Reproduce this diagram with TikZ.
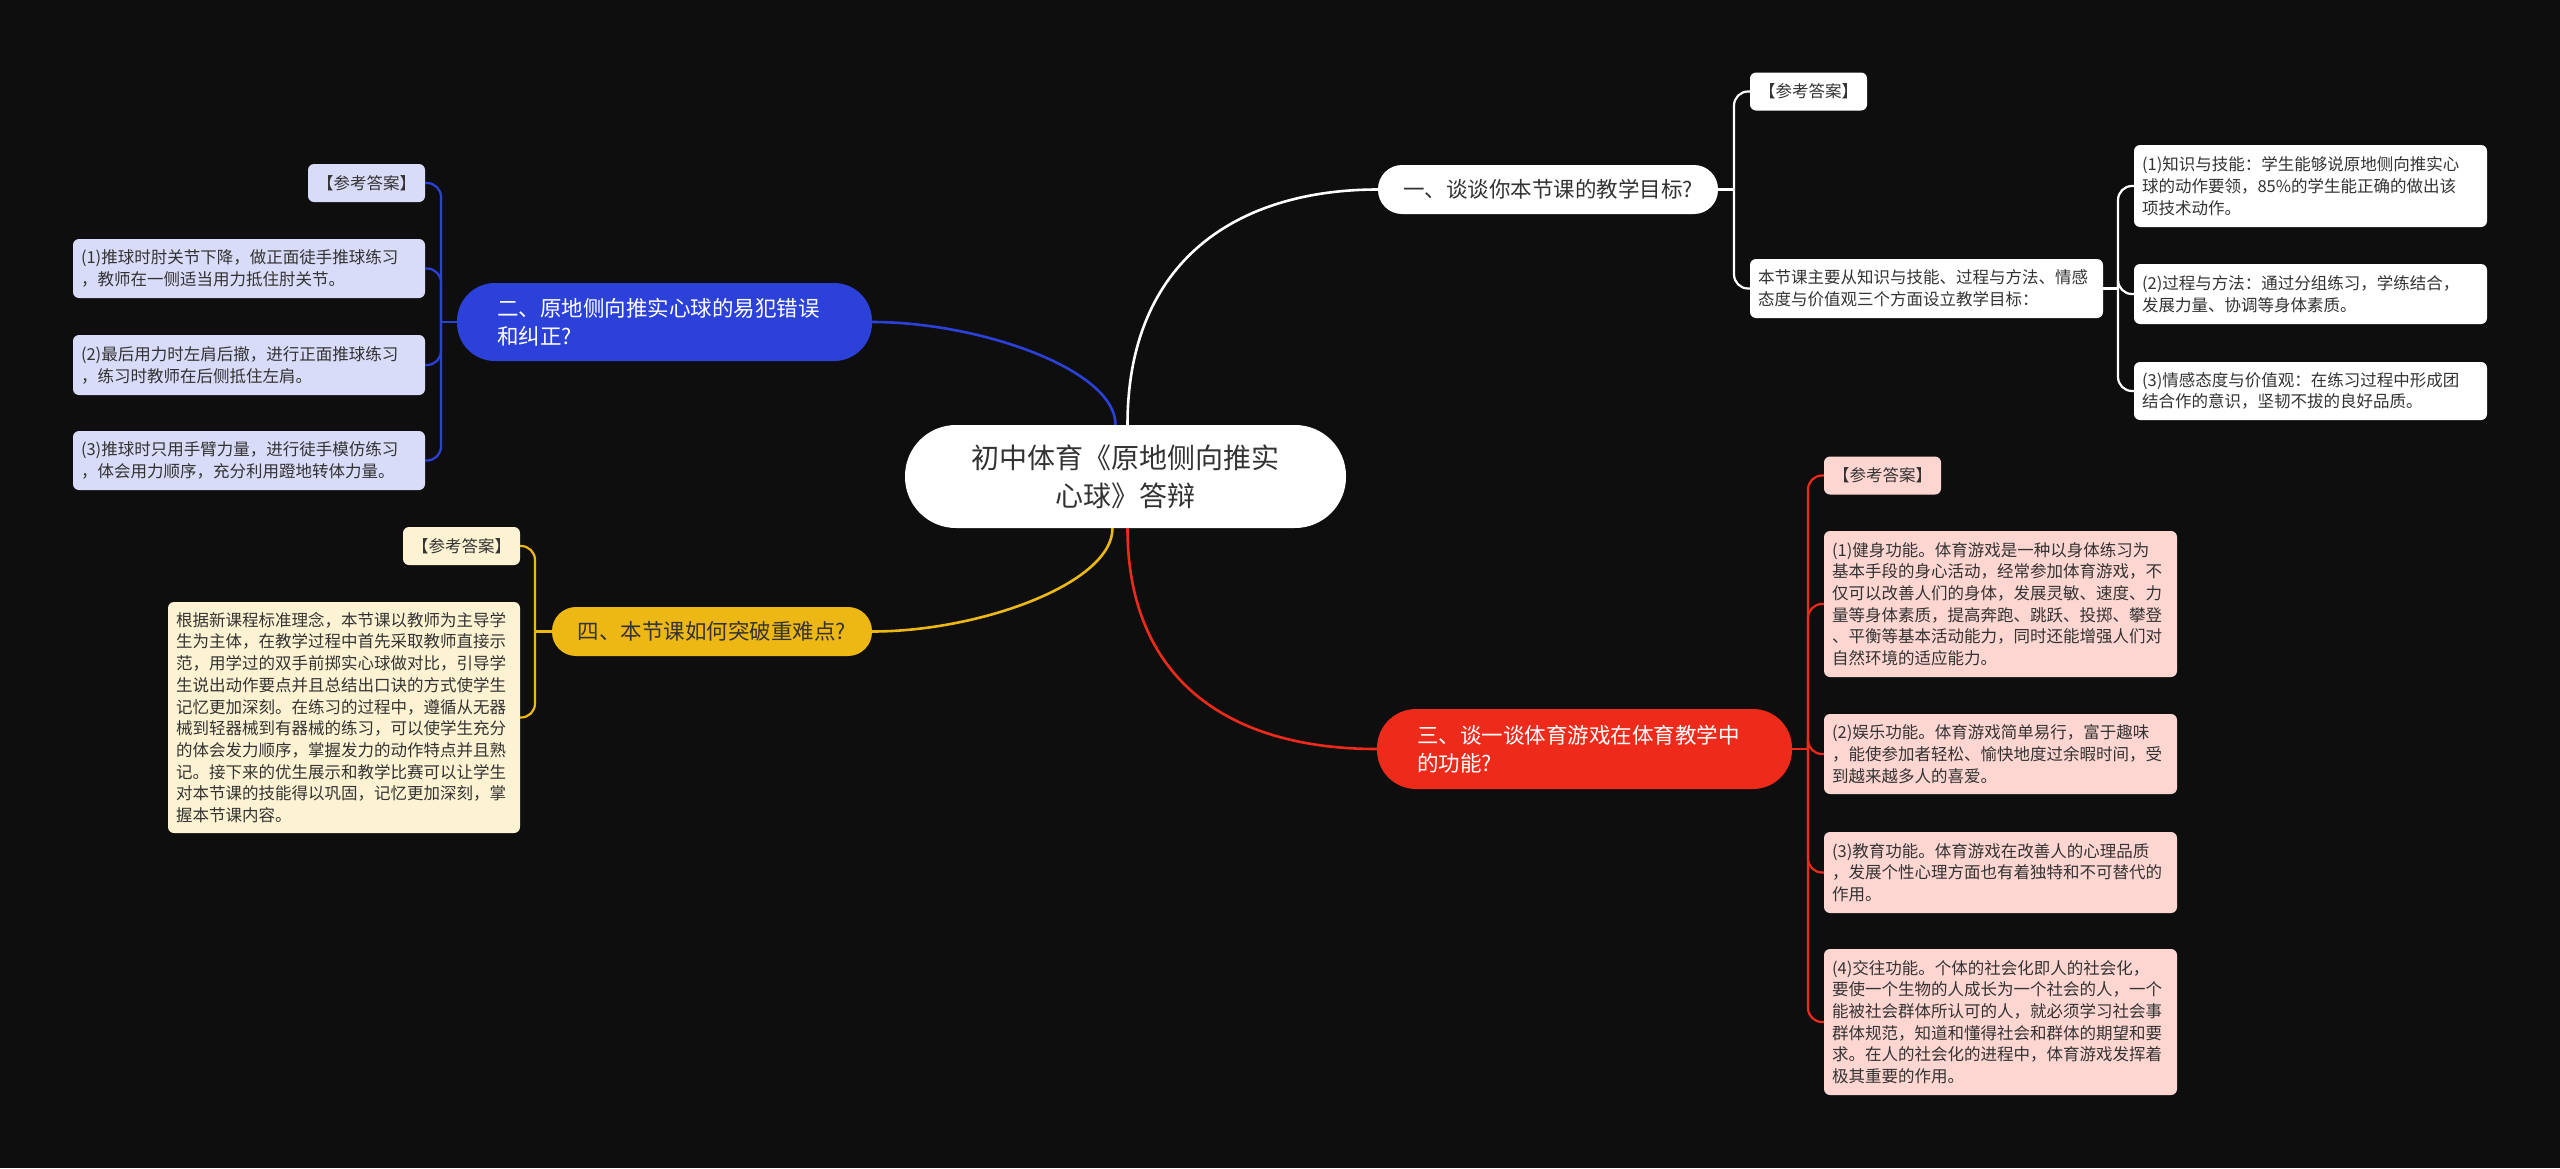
\documentclass[tikz,border=0pt]{standalone}
\usepackage{fontspec}
\setmainfont{Noto Sans CJK SC}
\definecolor{bg}{HTML}{0E0E0E}
\definecolor{ink}{HTML}{333333}
\definecolor{bluetopic}{HTML}{2B41D9}
\definecolor{blueleaf}{HTML}{D9DCF8}
\definecolor{goldtopic}{HTML}{EDB813}
\definecolor{goldleaf}{HTML}{FDF3D3}
\definecolor{redtopic}{HTML}{EE2A1B}
\definecolor{redleaf}{HTML}{FDD6D2}

\begin{document}
\begin{tikzpicture}[x=1pt,y=-1pt,
  root/.style={fill=white,text=ink,rounded corners=51pt,align=center,inner sep=0pt,
    minimum width=441pt,minimum height=103pt,font=\fontsize{28}{38}\selectfont},
  topic/.style={rounded corners=24pt,inner ysep=0pt,font=\fontsize{21.5}{28}\selectfont},
  leaf/.style={rounded corners=6pt,align=left,inner xsep=8pt,inner ysep=0pt,text=ink,
    text width=337pt,font=\fontsize{16.5}{21.7}\selectfont},
  tag/.style={rounded corners=6pt,align=center,inner sep=0pt,text=ink,
    minimum width=117pt,minimum height=38pt,font=\fontsize{16.5}{21.7}\selectfont},
  link/.style={line width=2.6pt},
  fork/.style={line width=2.2pt,rounded corners=14pt}]
  \fill[bg] (0,0) rectangle (2560,1168);
  \useasboundingbox (0,0) rectangle (2560,1168);

  % ===== centre =====
  \node[root] (root) at (1125.5,476.5) {初中体育《原地侧向推实\\心球》答辩};

  % ===== topics =====
  \node[topic,fill=white,text=ink,minimum width=340pt,minimum height=49pt] (q1) at (1548,189.5) {一、谈谈你本节课的教学目标?};
  \node[topic,fill=bluetopic,text=white,align=left,inner xsep=40pt,text width=335pt,minimum height=78pt,rounded corners=38pt] (q2) at (664.5,322) {二、原地侧向推实心球的易犯错误\\和纠正?};
  \node[topic,fill=redtopic,text=white,align=left,inner xsep=40pt,text width=335pt,minimum height=80pt,rounded corners=39pt] (q3) at (1584.5,749) {三、谈一谈体育游戏在体育教学中\\的功能?};
  \node[topic,fill=goldtopic,text=ink,minimum width=320pt,minimum height=49pt] (q4) at (712,631.5) {四、本节课如何突破重难点?};

  \draw[link,white] ([xshift=2pt]root.north) .. controls +(0,-165) and +(-140,0) .. (q1.west);
  \draw[link,bluetopic] ([xshift=-10pt]root.north) .. controls +(0,-55) and +(108,0) .. (q2.east);
  \draw[link,goldtopic] ([xshift=-13pt]root.south) .. controls +(0,55) and +(108,0) .. (q4.east);
  \draw[link,redtopic] ([xshift=2pt]root.south) .. controls +(0,150) and +(-150,0) .. (q3.west);

  % ===== topic 1 =====
  \node[tag,fill=white] (a1) at (1808.5,91.5) {【参考答案】};
  \node[leaf,fill=white,minimum height=59pt] (goal) at (1926.5,288.5) {本节课主要从知识与技能、过程与方法、情感\\态度与价值观三个方面设立教学目标：};
  \node[leaf,fill=white,minimum height=82pt] (g1) at (2310.5,186) {(1)知识与技能：学生能够说原地侧向推实心\\球的动作要领，85\%的学生能正确的做出该\\项技术动作。};
  \node[leaf,fill=white,minimum height=60pt] (g2) at (2310.5,294) {(2)过程与方法：通过分组练习，学练结合，\\发展力量、协调等身体素质。};
  \node[leaf,fill=white,minimum height=58pt] (g3) at (2310.5,391) {(3)情感态度与价值观：在练习过程中形成团\\结合作的意识，坚韧不拔的良好品质。};
  \coordinate (j1) at (1734,189.5);
  \coordinate (j1b) at (2118,288.5);
  \draw[fork,white] (q1.east) -- (j1);
  \foreach \c in {a1,goal} \draw[fork,white] (j1) |- (\c.west);
  \draw[fork,white] (goal.east) -- (j1b);
  \foreach \c in {g1,g2,g3} \draw[fork,white] (j1b) |- (\c.west);

  % ===== topic 2 =====
  \node[tag,fill=blueleaf] (a2) at (366.5,183) {【参考答案】};
  \node[leaf,fill=blueleaf,text width=336pt,minimum height=59pt] (e1) at (249,268.5) {(1)推球时肘关节下降，做正面徒手推球练习\\，教师在一侧适当用力抵住肘关节。};
  \node[leaf,fill=blueleaf,text width=336pt,minimum height=60pt] (e2) at (249,365) {(2)最后用力时左肩后撤，进行正面推球练习\\，练习时教师在后侧抵住左肩。};
  \node[leaf,fill=blueleaf,text width=336pt,minimum height=59pt] (e3) at (249,460.5) {(3)推球时只用手臂力量，进行徒手模仿练习\\，体会用力顺序，充分利用蹬地转体力量。};
  \coordinate (j2) at (441,322);
  \draw[fork,bluetopic] (q2.west) -- (j2);
  \foreach \c in {a2,e1,e2,e3} \draw[fork,bluetopic] (j2) |- (\c.east);

  % ===== topic 3 =====
  \node[tag,fill=redleaf] (a3) at (1882.5,475.5) {【参考答案】};
  \node[leaf,fill=redleaf,minimum height=146pt] (f1) at (2000.5,604) {(1)健身功能。体育游戏是一种以身体练习为\\基本手段的身心活动，经常参加体育游戏，不\\仅可以改善人们的身体，发展灵敏、速度、力\\量等身体素质，提高奔跑、跳跃、投掷、攀登\\、平衡等基本活动能力，同时还能增强人们对\\自然环境的适应能力。};
  \node[leaf,fill=redleaf,minimum height=80pt] (f2) at (2000.5,754) {(2)娱乐功能。体育游戏简单易行，富于趣味\\，能使参加者轻松、愉快地度过余暇时间，受\\到越来越多人的喜爱。};
  \node[leaf,fill=redleaf,minimum height=81pt] (f3) at (2000.5,872.5) {(3)教育功能。体育游戏在改善人的心理品质\\，发展个性心理方面也有着独特和不可替代的\\作用。};
  \node[leaf,fill=redleaf,minimum height=146pt] (f4) at (2000.5,1022) {(4)交往功能。个体的社会化即人的社会化，\\要使一个生物的人成长为一个社会的人，一个\\能被社会群体所认可的人，就必须学习社会事\\群体规范，知道和懂得社会和群体的期望和要\\求。在人的社会化的进程中，体育游戏发挥着\\极其重要的作用。};
  \coordinate (j3) at (1808,749);
  \draw[fork,redtopic] (q3.east) -- (j3);
  \foreach \c in {a3,f1,f2,f3,f4} \draw[fork,redtopic] (j3) |- (\c.west);

  % ===== topic 4 =====
  \node[tag,fill=goldleaf] (a4) at (461.5,546) {【参考答案】};
  \node[leaf,fill=goldleaf,text width=336pt,minimum height=231pt] (k1) at (344,717.5) {根据新课程标准理念，本节课以教师为主导学\\生为主体，在教学过程中首先采取教师直接示\\范，用学过的双手前掷实心球做对比，引导学\\生说出动作要点并且总结出口诀的方式使学生\\记忆更加深刻。在练习的过程中，遵循从无器\\械到轻器械到有器械的练习，可以使学生充分\\的体会发力顺序，掌握发力的动作特点并且熟\\记。接下来的优生展示和教学比赛可以让学生\\对本节课的技能得以巩固，记忆更加深刻，掌\\握本节课内容。};
  \coordinate (j4) at (535,631.5);
  \draw[fork,goldtopic] (q4.west) -- (j4);
  \foreach \c in {a4,k1} \draw[fork,goldtopic] (j4) |- (\c.east);
\end{tikzpicture}
\end{document}
